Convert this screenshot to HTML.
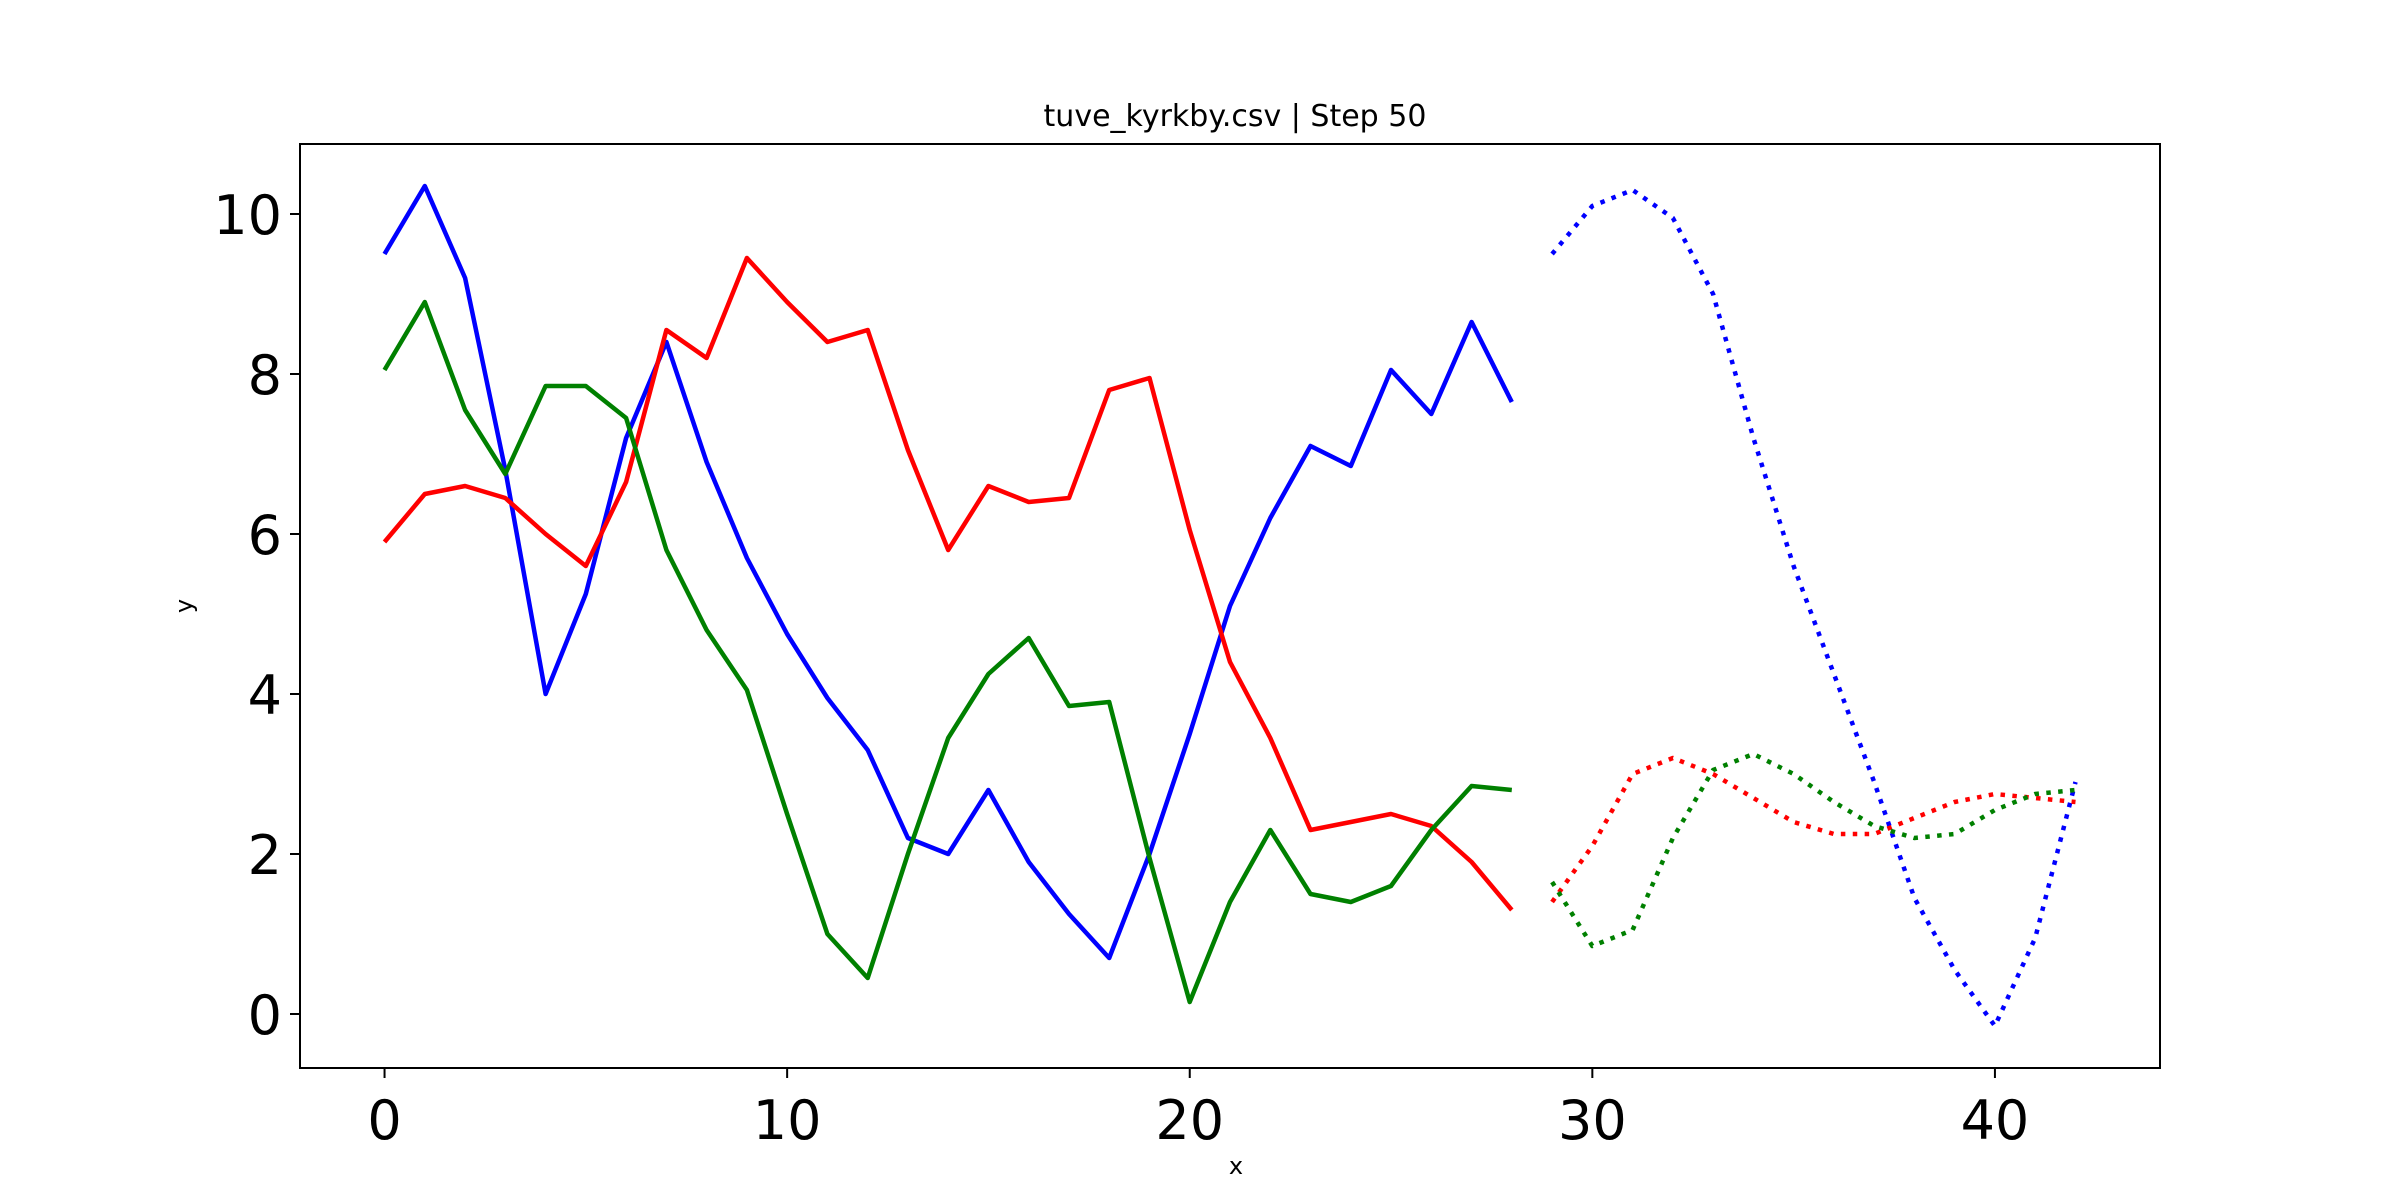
<!DOCTYPE html>
<html><head><meta charset="utf-8"><style>
body{margin:0;background:#fff;}
svg{display:block;font-family:"DejaVu Sans","Liberation Sans",sans-serif;}
</style></head><body>
<svg id="chart" width="2400" height="1200" xmlns="http://www.w3.org/2000/svg">
<rect width="2400" height="1200" fill="#fff"/>
<text x="1235" y="126" text-anchor="middle" font-size="30">tuve_kyrkby.csv | Step 50</text>
<text x="1236" y="1174" text-anchor="middle" font-size="24">x</text>
<text x="0" y="0" transform="translate(192,606) rotate(-90)" text-anchor="middle" font-size="24">y</text>
<g id="plot"></g>
<rect x="300" y="144" width="1860" height="924" fill="none" stroke="#000" stroke-width="2"/>
</svg>
<script>
const xTicks = [0, 10, 20, 30, 40];
const yTicks = [0, 2, 4, 6, 8, 10];
const histX = [0,1,2,3,4,5,6,7,8,9,10,11,12,13,14,15,16,17,18,19,20,21,22,23,24,25,26,27,28];
const histBlue = [9.5,10.35,9.2,6.8,4.0,5.25,7.2,8.4,6.9,5.7,4.75,3.95,3.3,2.2,2.0,2.8,1.9,1.25,0.7,2.0,3.5,5.1,6.2,7.1,6.85,8.05,7.5,8.65,7.65];
const histRed = [5.9,6.5,6.6,6.45,6.0,5.6,6.65,8.55,8.2,9.45,8.9,8.4,8.55,7.05,5.8,6.6,6.4,6.45,7.8,7.95,6.05,4.4,3.45,2.3,2.4,2.5,2.35,1.9,1.3];
const histGreen = [8.05,8.9,7.55,6.75,7.85,7.85,7.45,5.8,4.8,4.05,2.5,1.0,0.45,2.0,3.45,4.25,4.7,3.85,3.9,1.95,0.15,1.4,2.3,1.5,1.4,1.6,2.3,2.85,2.8];
const predX = [29,30,31,32,33,34,35,36,37,38,39,40,41,42];
const predBlue = [9.5,10.1,10.3,9.95,9.0,7.2,5.6,4.25,2.9,1.45,0.55,-0.15,0.95,2.9];
const predRed = [1.4,2.1,3.0,3.2,3.0,2.7,2.4,2.25,2.25,2.45,2.65,2.75,2.7,2.65];
const predGreen = [1.65,0.85,1.05,2.2,3.05,3.25,3.0,2.65,2.35,2.2,2.25,2.55,2.75,2.8];

const L=300,R=2160,T=144,B=1068;
const xMin=-2.1,xMax=44.1,yMin=-0.675,yMax=10.875;
const sx=v=>L+(v-xMin)/(xMax-xMin)*(R-L);
const sy=v=>B-(v-yMin)/(yMax-yMin)*(B-T);
const NS="http://www.w3.org/2000/svg";
const g=document.getElementById('plot');
function mk(tag,attrs){const e=document.createElementNS(NS,tag);for(const k in attrs)e.setAttribute(k,attrs[k]);g.appendChild(e);return e;}

xTicks.forEach(t=>{
  const l=mk('line',{x1:sx(t),x2:sx(t),y1:B,y2:B+10,stroke:'#000','stroke-width':2});
  
  
  const tx=mk('text',{x:sx(t),y:B+71,'text-anchor':'middle','font-size':54});
  tx.textContent=t;
  
  
});
yTicks.forEach(t=>{
  const l=mk('line',{x1:L-10,x2:L,y1:sy(t),y2:sy(t),stroke:'#000','stroke-width':2});
  
  
  const tx=mk('text',{x:L-18,y:sy(t)+20,'text-anchor':'end','font-size':54});
  tx.textContent=t;
  
  
});
function line(xs,ys,color,dotted,name){
  const d=xs.map((x,i)=>(i?'L':'M')+sx(x).toFixed(1)+','+sy(ys[i]).toFixed(1)).join(' ');
  const p=mk('path',{d:d,fill:'none',stroke:color,'stroke-width':4.5,'stroke-linejoin':'round'});
  if(dotted){p.setAttribute('stroke-dasharray','4.5 7.4');p.setAttribute('stroke-linecap','butt');}
  
  
}
line(histX,histBlue,'#0000ff',false,'history-blue-line');
line(histX,histRed,'#ff0000',false,'history-red-line');
line(histX,histGreen,'#008000',false,'history-green-line');
line(predX,predBlue,'#0000ff',true,'forecast-blue-line');
line(predX,predRed,'#ff0000',true,'forecast-red-line');
line(predX,predGreen,'#008000',true,'forecast-green-line');
</script>
</body></html>
